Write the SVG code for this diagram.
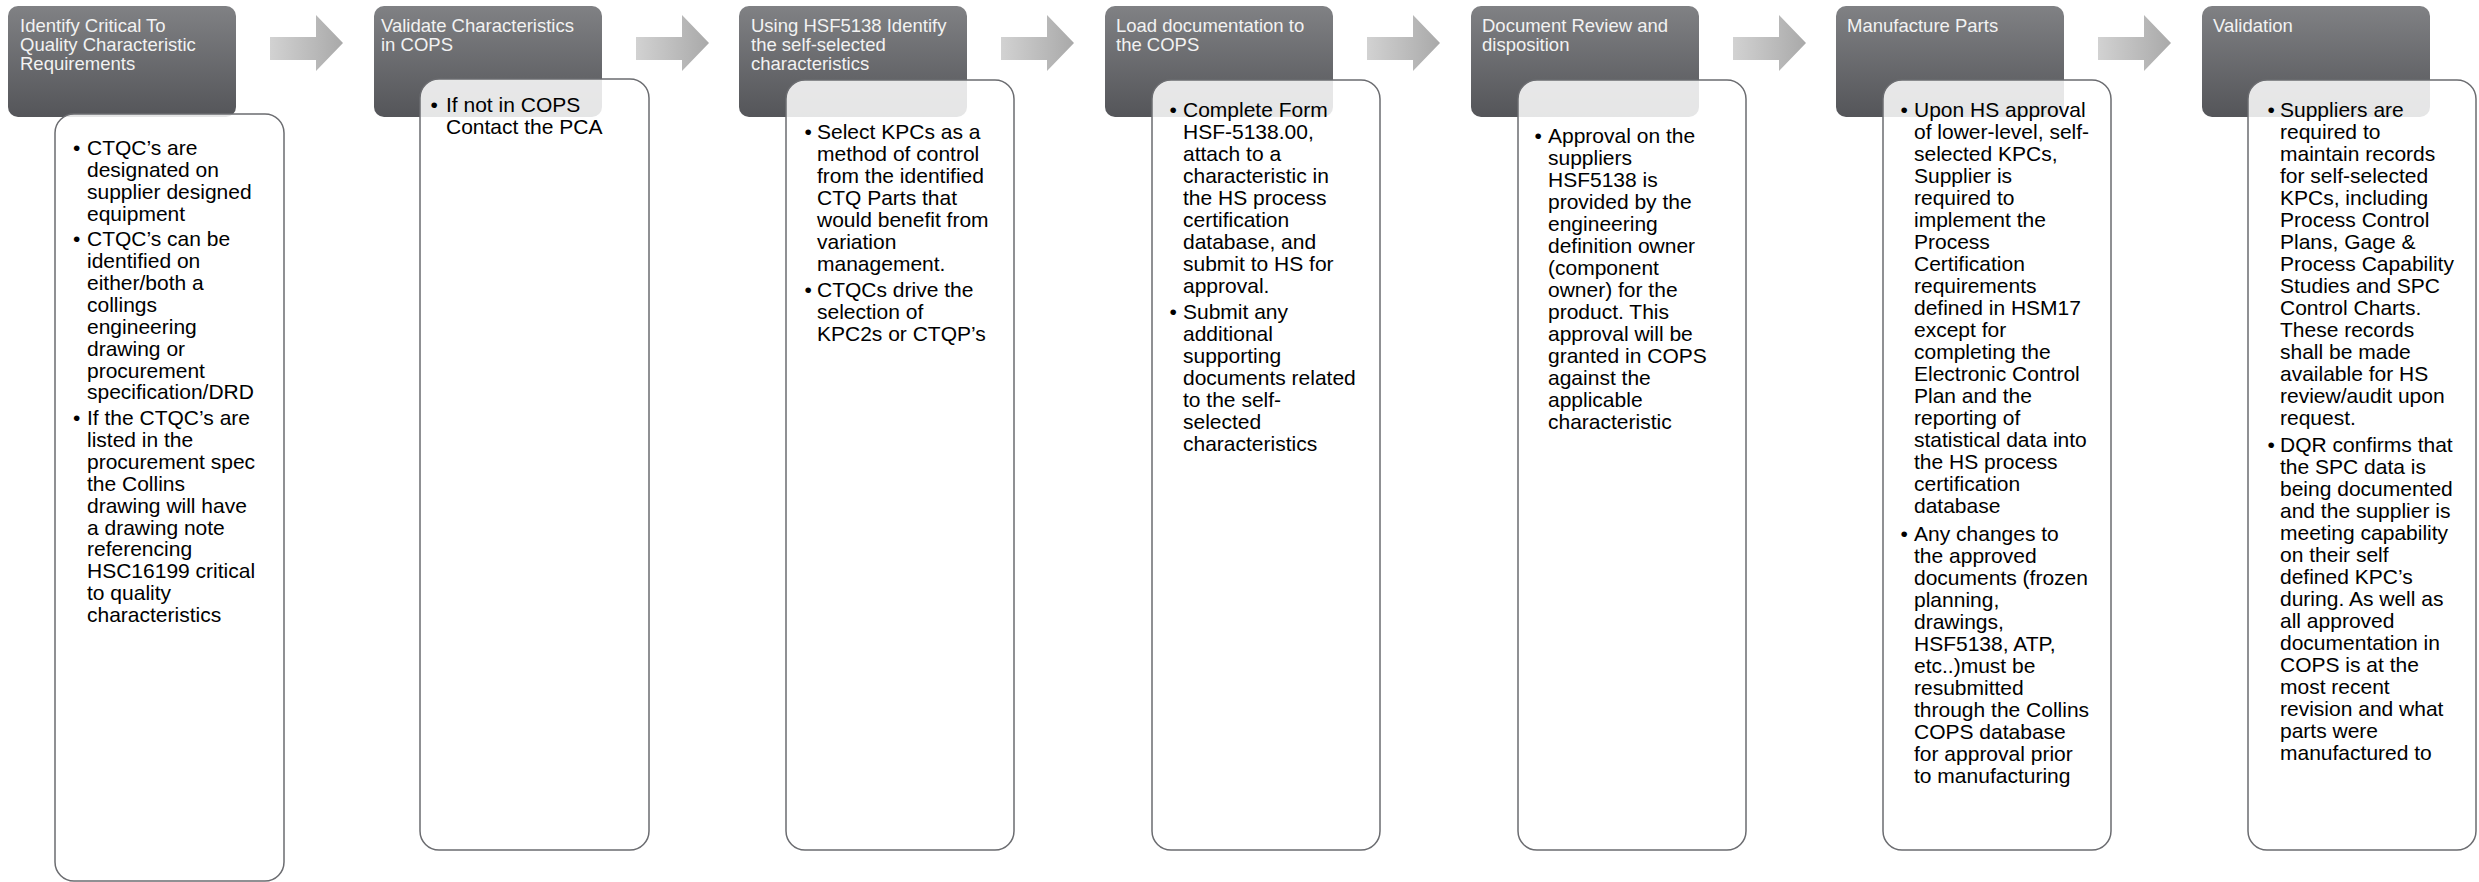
<svg xmlns="http://www.w3.org/2000/svg" width="2479" height="882" viewBox="0 0 2479 882">
<defs>
<linearGradient id="hg" x1="0" y1="0" x2="0" y2="1">
<stop offset="0" stop-color="#808184"/>
<stop offset="1" stop-color="#545559"/>
</linearGradient>
<linearGradient id="ag" x1="0" y1="0" x2="1" y2="0">
<stop offset="0" stop-color="#d2d2d2"/>
<stop offset="1" stop-color="#a9a9a9"/>
</linearGradient>
<style>
.hdr{fill:url(#hg)}
.htx{font-family:"Liberation Sans",Arial,sans-serif;font-size:18.5px;fill:#f2f2f2}
.det{fill:#fff;fill-opacity:.85;stroke:#6b6c70;stroke-width:1.5}
.btx{font-family:"Liberation Sans",Arial,sans-serif;font-size:21px;fill:#000}
.arr{fill:url(#ag)}
</style>
</defs>
<rect width="2479" height="882" fill="#fff"/>
<g id="connectors">
<path class="arr" d="M270 37H316V15L343 43L316 71V60H270Z"/>
<path class="arr" d="M636 37H682V15L709 43L682 71V60H636Z"/>
<path class="arr" d="M1001 37H1047V15L1074 43L1047 71V60H1001Z"/>
<path class="arr" d="M1367 37H1413V15L1440 43L1413 71V60H1367Z"/>
<path class="arr" d="M1733 37H1779V15L1806 43L1779 71V60H1733Z"/>
<path class="arr" d="M2098 37H2144V15L2171 43L2144 71V60H2098Z"/>
</g>
<g id="node1">
<rect class="hdr" x="8" y="6" width="228" height="111" rx="10"/>
<text class="htx"><tspan x="20" y="32">Identify Critical To</tspan><tspan x="20" y="51">Quality Characteristic</tspan><tspan x="20" y="70">Requirements</tspan></text>
<rect class="det" x="55" y="114" width="229" height="767" rx="19"/>
<text class="btx"><tspan x="73" y="155">•</tspan><tspan x="73" y="246.4">•</tspan><tspan x="73" y="425.2">•</tspan></text>
<text class="btx"><tspan x="87" y="155">CTQC’s are</tspan><tspan x="87" y="176.9">designated on</tspan><tspan x="87" y="198.7">supplier designed</tspan><tspan x="87" y="220.6">equipment</tspan><tspan x="87" y="246.4">CTQC’s can be</tspan><tspan x="87" y="268.3">identified on</tspan><tspan x="87" y="290.1">either/both a</tspan><tspan x="87" y="312">collings</tspan><tspan x="87" y="333.8">engineering</tspan><tspan x="87" y="355.7">drawing or</tspan><tspan x="87" y="377.5">procurement</tspan><tspan x="87" y="399.4">specification/DRD</tspan><tspan x="87" y="425.2">If the CTQC’s are</tspan><tspan x="87" y="447.1">listed in the</tspan><tspan x="87" y="468.9">procurement spec</tspan><tspan x="87" y="490.8">the Collins</tspan><tspan x="87" y="512.6">drawing will have</tspan><tspan x="87" y="534.5">a drawing note</tspan><tspan x="87" y="556.3">referencing</tspan><tspan x="87" y="578.2">HSC16199 critical</tspan><tspan x="87" y="600">to quality</tspan><tspan x="87" y="621.9">characteristics</tspan></text>
</g>
<g id="node2">
<rect class="hdr" x="374" y="6" width="228" height="111" rx="10"/>
<text class="htx"><tspan x="381" y="32">Validate Characteristics</tspan><tspan x="381" y="51">in COPS</tspan></text>
<rect class="det" x="420" y="79" width="229" height="771" rx="19"/>
<text class="btx"><tspan x="430.5" y="112">•</tspan></text>
<text class="btx"><tspan x="446" y="112">If not in COPS</tspan><tspan x="446" y="134">Contact the PCA</tspan></text>
</g>
<g id="node3">
<rect class="hdr" x="739" y="6" width="228" height="111" rx="10"/>
<text class="htx"><tspan x="751" y="32">Using HSF5138 Identify</tspan><tspan x="751" y="51">the self-selected</tspan><tspan x="751" y="70">characteristics</tspan></text>
<rect class="det" x="786" y="80" width="228" height="770" rx="19"/>
<text class="btx"><tspan x="804.5" y="139.3">•</tspan><tspan x="804.5" y="297.3">•</tspan></text>
<text class="btx"><tspan x="817" y="139.3">Select KPCs as a</tspan><tspan x="817" y="161.3">method of control</tspan><tspan x="817" y="183.3">from the identified</tspan><tspan x="817" y="205.3">CTQ Parts that</tspan><tspan x="817" y="227.3">would benefit from</tspan><tspan x="817" y="249.3">variation</tspan><tspan x="817" y="271.3">management.</tspan><tspan x="817" y="297.3">CTQCs drive the</tspan><tspan x="817" y="319.3">selection of</tspan><tspan x="817" y="341.3">KPC2s or CTQP’s</tspan></text>
</g>
<g id="node4">
<rect class="hdr" x="1105" y="6" width="228" height="111" rx="10"/>
<text class="htx"><tspan x="1116" y="32">Load documentation to</tspan><tspan x="1116" y="51">the COPS</tspan></text>
<rect class="det" x="1152" y="80" width="228" height="770" rx="19"/>
<text class="btx"><tspan x="1169.5" y="116.7">•</tspan><tspan x="1169.5" y="318.7">•</tspan></text>
<text class="btx"><tspan x="1183" y="116.7">Complete Form</tspan><tspan x="1183" y="138.7">HSF-5138.00,</tspan><tspan x="1183" y="160.7">attach to a</tspan><tspan x="1183" y="182.7">characteristic in</tspan><tspan x="1183" y="204.7">the HS process</tspan><tspan x="1183" y="226.7">certification</tspan><tspan x="1183" y="248.7">database, and</tspan><tspan x="1183" y="270.7">submit to HS for</tspan><tspan x="1183" y="292.7">approval.</tspan><tspan x="1183" y="318.7">Submit any</tspan><tspan x="1183" y="340.7">additional</tspan><tspan x="1183" y="362.7">supporting</tspan><tspan x="1183" y="384.7">documents related</tspan><tspan x="1183" y="406.7">to the self-</tspan><tspan x="1183" y="428.7">selected</tspan><tspan x="1183" y="450.7">characteristics</tspan></text>
</g>
<g id="node5">
<rect class="hdr" x="1471" y="6" width="228" height="111" rx="10"/>
<text class="htx"><tspan x="1482" y="32">Document Review and</tspan><tspan x="1482" y="51">disposition</tspan></text>
<rect class="det" x="1518" y="80" width="228" height="770" rx="19"/>
<text class="btx"><tspan x="1534.5" y="142.7">•</tspan></text>
<text class="btx"><tspan x="1548" y="142.7">Approval on the</tspan><tspan x="1548" y="164.7">suppliers</tspan><tspan x="1548" y="186.7">HSF5138 is</tspan><tspan x="1548" y="208.7">provided by the</tspan><tspan x="1548" y="230.7">engineering</tspan><tspan x="1548" y="252.7">definition owner</tspan><tspan x="1548" y="274.7">(component</tspan><tspan x="1548" y="296.7">owner) for the</tspan><tspan x="1548" y="318.7">product. This</tspan><tspan x="1548" y="340.7">approval will be</tspan><tspan x="1548" y="362.7">granted in COPS</tspan><tspan x="1548" y="384.7">against the</tspan><tspan x="1548" y="406.7">applicable</tspan><tspan x="1548" y="428.7">characteristic</tspan></text>
</g>
<g id="node6">
<rect class="hdr" x="1836" y="6" width="228" height="111" rx="10"/>
<text class="htx"><tspan x="1847" y="32">Manufacture Parts</tspan></text>
<rect class="det" x="1883" y="80" width="228" height="770" rx="19"/>
<text class="btx"><tspan x="1900.5" y="116.7">•</tspan><tspan x="1900.5" y="540.7">•</tspan></text>
<text class="btx"><tspan x="1914" y="116.7">Upon HS approval</tspan><tspan x="1914" y="138.7">of lower-level, self-</tspan><tspan x="1914" y="160.7">selected KPCs,</tspan><tspan x="1914" y="182.7">Supplier is</tspan><tspan x="1914" y="204.7">required to</tspan><tspan x="1914" y="226.7">implement the</tspan><tspan x="1914" y="248.7">Process</tspan><tspan x="1914" y="270.7">Certification</tspan><tspan x="1914" y="292.7">requirements</tspan><tspan x="1914" y="314.7">defined in HSM17</tspan><tspan x="1914" y="336.7">except for</tspan><tspan x="1914" y="358.7">completing the</tspan><tspan x="1914" y="380.7">Electronic Control</tspan><tspan x="1914" y="402.7">Plan and the</tspan><tspan x="1914" y="424.7">reporting of</tspan><tspan x="1914" y="446.7">statistical data into</tspan><tspan x="1914" y="468.7">the HS process</tspan><tspan x="1914" y="490.7">certification</tspan><tspan x="1914" y="512.7">database</tspan><tspan x="1914" y="540.7">Any changes to</tspan><tspan x="1914" y="562.7">the approved</tspan><tspan x="1914" y="584.7">documents (frozen</tspan><tspan x="1914" y="606.7">planning,</tspan><tspan x="1914" y="628.7">drawings,</tspan><tspan x="1914" y="650.7">HSF5138, ATP,</tspan><tspan x="1914" y="672.7">etc..)must be</tspan><tspan x="1914" y="694.7">resubmitted</tspan><tspan x="1914" y="716.7">through the Collins</tspan><tspan x="1914" y="738.7">COPS database</tspan><tspan x="1914" y="760.7">for approval prior</tspan><tspan x="1914" y="782.7">to manufacturing</tspan></text>
</g>
<g id="node7">
<rect class="hdr" x="2202" y="6" width="228" height="111" rx="10"/>
<text class="htx"><tspan x="2213" y="32">Validation</tspan></text>
<rect class="det" x="2248" y="80" width="228" height="770" rx="19"/>
<text class="btx"><tspan x="2267.5" y="116.7">•</tspan><tspan x="2267.5" y="451.7">•</tspan></text>
<text class="btx"><tspan x="2280" y="116.7">Suppliers are</tspan><tspan x="2280" y="138.7">required to</tspan><tspan x="2280" y="160.7">maintain records</tspan><tspan x="2280" y="182.7">for self-selected</tspan><tspan x="2280" y="204.7">KPCs, including</tspan><tspan x="2280" y="226.7">Process Control</tspan><tspan x="2280" y="248.7">Plans, Gage &amp;</tspan><tspan x="2280" y="270.7">Process Capability</tspan><tspan x="2280" y="292.7">Studies and SPC</tspan><tspan x="2280" y="314.7">Control Charts.</tspan><tspan x="2280" y="336.7">These records</tspan><tspan x="2280" y="358.7">shall be made</tspan><tspan x="2280" y="380.7">available for HS</tspan><tspan x="2280" y="402.7">review/audit upon</tspan><tspan x="2280" y="424.7">request.</tspan><tspan x="2280" y="451.7">DQR confirms that</tspan><tspan x="2280" y="473.7">the SPC data is</tspan><tspan x="2280" y="495.7">being documented</tspan><tspan x="2280" y="517.7">and the supplier is</tspan><tspan x="2280" y="539.7">meeting capability</tspan><tspan x="2280" y="561.7">on their self</tspan><tspan x="2280" y="583.7">defined KPC’s</tspan><tspan x="2280" y="605.7">during. As well as</tspan><tspan x="2280" y="627.7">all approved</tspan><tspan x="2280" y="649.7">documentation in</tspan><tspan x="2280" y="671.7">COPS is at the</tspan><tspan x="2280" y="693.7">most recent</tspan><tspan x="2280" y="715.7">revision and what</tspan><tspan x="2280" y="737.7">parts were</tspan><tspan x="2280" y="759.7">manufactured to</tspan></text>
</g>
</svg>
